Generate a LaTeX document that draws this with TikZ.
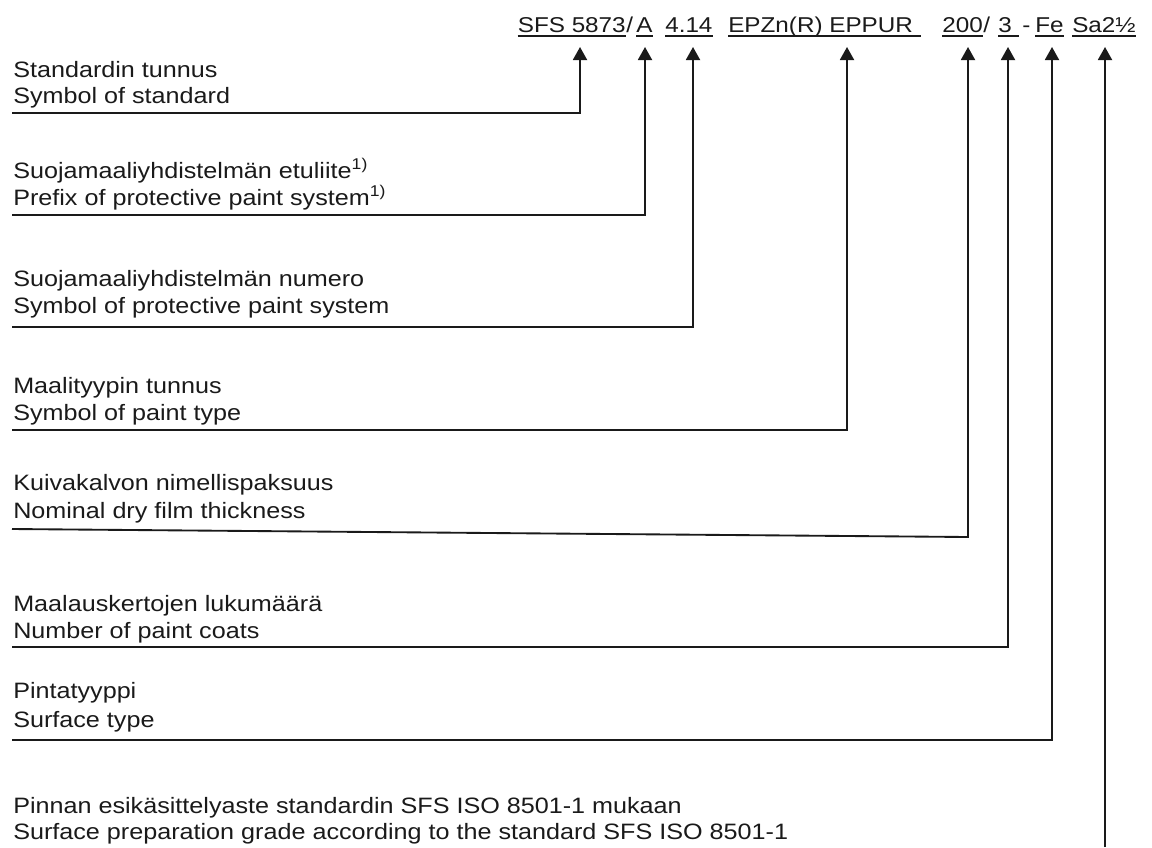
\documentclass[tikz,border=0pt]{standalone}
\usepackage{fontspec}
\setmainfont{Liberation Sans}[FakeStretch=1.13]
\usetikzlibrary{arrows.meta}
\definecolor{ink}{HTML}{1A1A1A}
\begin{document}
\begin{tikzpicture}[x=0.75pt,y=-0.75pt,
  lbl/.style={anchor=base west,inner sep=0pt,text=ink,font=\fontsize{16.7pt}{20pt}\selectfont},
  hdr/.style={anchor=base west,inner sep=0pt,text=ink,font=\fontsize{16.1pt}{19pt}\selectfont},
  conn/.style={draw=ink,line width=1.4pt,-{Triangle[length=9.75pt,width=10.5pt]}},
  ul/.style={draw=ink,line width=1.3pt}]
\useasboundingbox (0,0) rectangle (1152,847);
% header tokens
\node[hdr,anchor=base east] (h1) at (626,32) {SFS 5873};
\node[hdr] (h1s) at (h1.base east) {/};
\node[hdr] (h2) at (636,32) {A};
\node[hdr] (h3) at (665,32) {4.14};
\node[hdr] (h4) at (728,32) {EPZn(R) EPPUR};
\node[hdr] (h5) at (942,32) {200};
\node[hdr] (h5s) at (h5.base east) {/};
\node[hdr] (h6) at (998,32) {3};
\node[hdr] (h6s) at (1022,32) {-};
\node[hdr] (h7) at (1035,32) {Fe};
\node[hdr] (h8) at (1072,32) {Sa2½};
% underlines
\foreach \n/\e in {h1/0,h2/0,h3/0,h4/8,h5/0,h6/7,h7/0,h8/0}{
  \draw[ul] ([yshift=-3pt]\n.base west) -- ([yshift=-3pt,xshift=\e*0.75pt]\n.base east);
}
% arrow tips
\coordinate (t1) at (580,47);
\coordinate (t2) at (645,47);
\coordinate (t3) at (693,47);
\coordinate (t4) at (847,47);
\coordinate (t5) at (968,47);
\coordinate (t6) at (1008,47);
\coordinate (t7) at (1052,47);
\coordinate (t8) at (1105,47);
% labels
\node[lbl] (a1) at (13,77) {Standardin tunnus};
\node[lbl] (b1) at (13,103) {Symbol of standard};
\node[lbl] (a2) at (13,178) {Suojamaaliyhdistelmän etuliite\textsuperscript{1)}};
\node[lbl] (b2) at (13,205) {Prefix of protective paint system\textsuperscript{1)}};
\node[lbl] (a3) at (13,286) {Suojamaaliyhdistelmän numero};
\node[lbl] (b3) at (13,313) {Symbol of protective paint system};
\node[lbl] (a4) at (13,393) {Maalityypin tunnus};
\node[lbl] (b4) at (13,420) {Symbol of paint type};
\node[lbl] (a5) at (13,490) {Kuivakalvon nimellispaksuus};
\node[lbl] (b5) at (13,518) {Nominal dry film thickness};
\node[lbl] (a6) at (13,611) {Maalauskertojen lukumäärä};
\node[lbl] (b6) at (13,638) {Number of paint coats};
\node[lbl] (a7) at (13,698) {Pintatyyppi};
\node[lbl] (b7) at (13,727) {Surface type};
\node[lbl] (a8) at (13,813) {Pinnan esikäsittelyaste standardin SFS ISO 8501-1 mukaan};
\node[lbl] (b8) at (13,839) {Surface preparation grade according to the standard SFS ISO 8501-1};
% leader start points
\coordinate (s1) at (12,113);
\coordinate (s2) at (12,215);
\coordinate (s3) at (12,327);
\coordinate (s4) at (12,430);
\coordinate (s5) at (12,529);
\coordinate (c5) at (968,537);
\coordinate (s6) at (12,647);
\coordinate (s7) at (12,740);
\coordinate (s8) at (1105,847);
% connectors
\draw[conn] (s1) -- (s1 -| t1) -- (t1);
\draw[conn] (s2) -- (s2 -| t2) -- (t2);
\draw[conn] (s3) -- (s3 -| t3) -- (t3);
\draw[conn] (s4) -- (s4 -| t4) -- (t4);
\draw[conn] (s5) -- (c5) -- (t5);
\draw[conn] (s6) -- (s6 -| t6) -- (t6);
\draw[conn] (s7) -- (s7 -| t7) -- (t7);
\draw[conn] (s8) -- (t8);
\end{tikzpicture}
\end{document}
